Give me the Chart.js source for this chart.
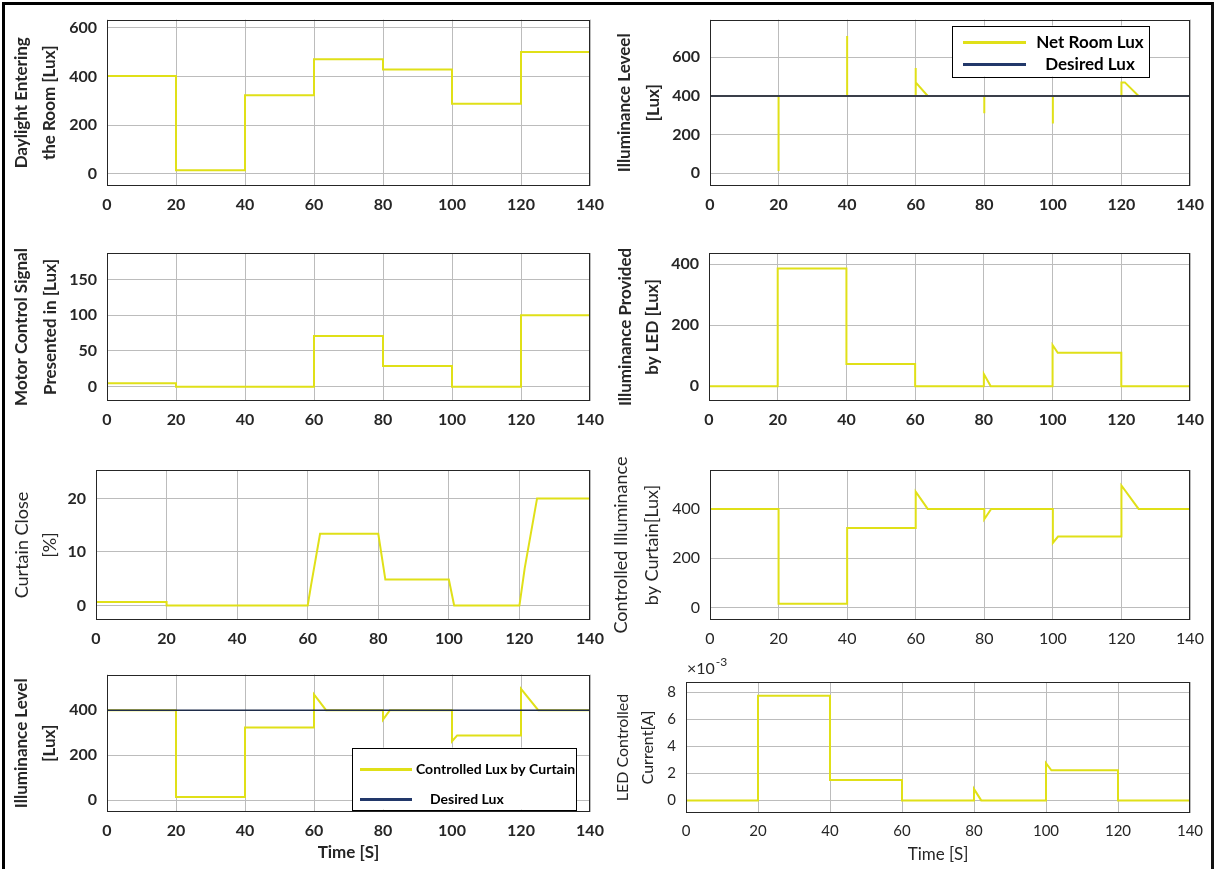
<!DOCTYPE html>
<html>
<head>
<meta charset="utf-8">
<script src="https://cdn.jsdelivr.net/npm/chart.js@4.4.1/dist/chart.umd.min.js"></script>
<style>
  html, body { margin: 0; padding: 0; background: #fff; }
  #fig { position: relative; width: 1217px; height: 869px; overflow: hidden; background: #fff; }
  #frame { position: absolute; left: 2px; top: 2px; width: 1206px; height: 880px;
           border-left: 3px solid #000; border-top: 3px solid #000; border-right: 3px solid #111; }
  canvas { position: absolute; }
</style>
</head>
<body>
<div id="fig"><div id="frame"></div></div>
<script>
// time axis [s]
const timeTicks = [0, 20, 40, 60, 80, 100, 120, 140];

// daylight entering the room [lux]
const tDaylight   = [0, 20, 20, 40, 40, 60, 60, 80, 80, 100, 100, 120, 120, 140, 140];
const daylightLux = [402, 402, 15, 15, 323, 323, 470, 470, 428, 428, 288, 288, 500, 500, 562];
const daylightRange = [-50, 633];
const daylightTicks = [0, 200, 400, 600];

// net room lux vs desired
const tNetLux   = [0, 20, 20, 20, 40, 40, 40, 60, 60, 60, 63.5, 80, 80, 80, 100, 100, 100, 120, 120, 121, 125, 140, 140];
const netLux    = [400, 400, 12, 400, 400, 710, 400, 400, 545, 470, 400, 400, 310, 400, 400, 258, 400, 400, 470, 470, 400, 400, 465];
const tDesired  = [0, 140];
const desiredLux = [400, 400];
const netRange = [-66, 795];
const netTicks = [0, 200, 400, 600];

// motor control signal [lux]
const tMotor   = [0, 20, 20, 60, 60, 80, 80, 100, 100, 120, 120, 140, 140];
const motorLux = [5, 5, 0, 0, 71, 71, 29, 29, 0, 0, 100, 100, 166];
const motorRange = [-20, 187];
const motorTicks = [0, 50, 100, 150];

// illuminance provided by LED [lux]
const tLed   = [0, 20, 20, 40, 40, 60, 60, 80, 80, 82, 100, 100, 101.5, 120, 120, 140];
const ledLux = [0, 0, 385, 385, 73, 73, 0, 0, 40, 0, 0, 135, 110, 110, 0, 0];
const ledRange = [-48, 436];
const ledTicks = [0, 200, 400];

// curtain close [%]
const tCurtain   = [0, 20, 20, 60, 61, 63.5, 80, 82, 100, 101.5, 120, 121.5, 125, 140, 140];
const curtainPct = [0.65, 0.65, 0, 0, 4, 13.4, 13.4, 4.85, 4.85, 0, 0, 7, 20, 20, 22.5];
const curtainRange = [-2.7, 25.3];
const curtainTicks = [0, 10, 20];

// illuminance controlled by curtain [lux]
const tCurtainLux = [0, 20, 20, 40, 40, 60, 60, 63.5, 80, 80, 82, 100, 100, 101.5, 120, 120, 125, 140, 140];
const curtainLux  = [400, 400, 15, 15, 323, 323, 470, 400, 400, 358, 400, 400, 262, 288, 288, 495, 400, 400, 465];
const curtainLuxRange = [-51, 558];
const curtainLuxRange2 = [-52, 558];
const curtainLuxTicks = [0, 200, 400];

// LED controlled current [A]
const tCurrent   = [0, 20, 20, 40, 40, 60, 60, 80, 80, 82, 100, 100, 101.5, 120, 120, 140];
const ledCurrent = [0, 0, 0.00772, 0.00772, 0.0015, 0.0015, 0, 0, 0.00085, 0, 0, 0.00275, 0.00222, 0.00222, 0, 0];
const currentRange = [-0.00093, 0.00874];
const currentTicks = [0, 0.002, 0.004, 0.006, 0.008];

const YELLOW = 'rgb(224,224,24)';
const NAVY = '#22386a';
const GRID = '#bcbcbc';
const TXT = '#262626';
const FONT = 'Lato';

const panelExtras = {
  id: 'panelExtras',
  afterDatasetsDraw(chart, args, opts) {
    const { ctx, chartArea: a } = chart;
    ctx.save();
    // axes box
    ctx.strokeStyle = TXT;
    ctx.lineWidth = 1;
    ctx.strokeRect(Math.round(a.left) + 0.5, Math.round(a.top) + 0.5,
                   Math.round(a.right - a.left) - 1, Math.round(a.bottom - a.top) - 1);

    const lg = opts.legend;
    if (lg) {
      const [bx, by, bw, bh] = lg.box;
      ctx.fillStyle = '#fff';
      ctx.fillRect(a.left + bx, a.top + by, bw, bh);
      ctx.strokeStyle = '#000';
      ctx.strokeRect(Math.round(a.left + bx) + 0.5, Math.round(a.top + by) + 0.5, bw, bh);
      ctx.font = lg.font;
      ctx.textBaseline = 'middle';
      chart.data.datasets.forEach((ds, i) => {
        const y = a.top + lg.rows[i];
        ctx.strokeStyle = ds.legendColor || ds.borderColor;
        ctx.lineWidth = 3;
        ctx.beginPath();
        ctx.moveTo(a.left + lg.sample[0], y);
        ctx.lineTo(a.left + lg.sample[1], y);
        ctx.stroke();
        ctx.fillStyle = '#000';
        ctx.textAlign = lg.align;
        const tx = Array.isArray(lg.tx) ? lg.tx[i] : lg.tx;
        ctx.fillText(ds.label, a.left + tx, y);
      });
    }

    if (opts.exp) {
      ctx.fillStyle = TXT;
      ctx.textBaseline = 'middle';
      ctx.textAlign = 'left';
      ctx.font = '16px ' + FONT;
      const base = '\u00d710';
      ctx.fillText(base, a.left + 1, a.top - 13);
      const w = ctx.measureText(base).width;
      ctx.font = '12px ' + FONT;
      ctx.fillText('-3', a.left + 2 + w, a.top - 20);
    }
    ctx.restore();
  }
};

const panels = [
  { canvas: [0, 0, 620, 222], plot: [107, 17, 590, 186],
    title: ['Daylight Entering', 'the Room [Lux]'], titleBold: true, titleSize: 17, lh: 27.5, pad: 8.25,
    tickBold: true, range: daylightRange, ticks: daylightTicks,
    series: [{ label: 'Daylight', t: tDaylight, v: daylightLux, color: YELLOW }] },
  { canvas: [600, 0, 617, 222], plot: [710, 16, 1190, 186],
    title: ['Illuminance Leveel', '[Lux]'], titleBold: true, titleSize: 17, lh: 29, pad: 10.5,
    tickBold: true, range: netRange, ticks: netTicks,
    series: [{ label: 'Net Room Lux', t: tNetLux, v: netLux, color: YELLOW, order: 1 },
             { label: 'Desired Lux', t: tDesired, v: desiredLux, color: '#3a3f4a', order: 0, width: 2, legendColor: NAVY }],
    legend: { box: [242, 6, 197, 51], sample: [253, 316], rows: [23, 45], tx: 380, align: 'center', font: 'bold 17px ' + FONT } },
  { canvas: [0, 225, 620, 217], plot: [107, 253, 590, 401],
    title: ['Motor Control Signal', 'Presented in [Lux]'], titleBold: true, titleSize: 17, lh: 29, pad: 7,
    tickBold: true, range: motorRange, ticks: motorTicks,
    series: [{ label: 'Motor', t: tMotor, v: motorLux, color: YELLOW }] },
  { canvas: [600, 225, 617, 217], plot: [709, 253, 1190, 401],
    title: ['Illuminance Provided', 'by LED [Lux]'], titleBold: true, titleSize: 17, lh: 27, pad: 12,
    tickBold: true, range: ledRange, ticks: ledTicks,
    series: [{ label: 'LED', t: tLed, v: ledLux, color: YELLOW }] },
  { canvas: [0, 442, 620, 215], plot: [96, 470, 590, 620],
    title: ['Curtain Close', '[%]'], titleBold: false, titleSize: 18, lh: 28, pad: 8.5,
    tickBold: true, range: curtainRange, ticks: curtainTicks,
    series: [{ label: 'Curtain', t: tCurtain, v: curtainPct, color: YELLOW }] },
  { canvas: [600, 442, 617, 215], plot: [710, 470, 1190, 620],
    title: ['Controlled Illuminance', 'by Curtain[Lux]'], titleBold: false, titleSize: 18, lh: 31, pad: 5.5,
    tickBold: false, range: curtainLuxRange, ticks: curtainLuxTicks,
    series: [{ label: 'Curtain Lux', t: tCurtainLux, v: curtainLux, color: YELLOW }] },
  { canvas: [0, 655, 620, 214], plot: [107, 667, 590, 812],
    title: ['Illuminance Level', '[Lux]'], titleBold: true, titleSize: 17, lh: 28.6, pad: 7,
    tickBold: true, range: curtainLuxRange2, ticks: curtainLuxTicks,
    xTitle: 'Time [S]', xTitleBold: true, xPad: 6,
    series: [{ label: 'Controlled Lux by Curtain', t: tCurtainLux, v: curtainLux, color: YELLOW, order: 1 },
             { label: 'Desired Lux', t: tDesired, v: desiredLux, color: '#1f2d4a', order: 0, width: 1.5, legendColor: NAVY }],
    legend: { box: [245, 73, 224, 62], sample: [253, 305], rows: [95, 125], tx: [309, 323], align: 'left', font: 'bold 14px ' + FONT } },
  { canvas: [600, 655, 617, 214], plot: [686, 682, 1190, 813],
    title: ['LED Controlled', 'Current[A]'], titleBold: false, titleSize: 16, lh: 25, pad: 10.5,
    tickBold: false, tickSize: 15, range: currentRange, ticks: currentTicks, milli: true,
    xTitle: 'Time [S]', xTitleBold: false, xPad: 4, exp: true,
    series: [{ label: 'Current', t: tCurrent, v: ledCurrent, color: YELLOW }] }
];

const fig = document.getElementById('fig');

panels.forEach(p => {
  const [cx, cy, cw, ch] = p.canvas;
  const [l, t, r, b] = p.plot;
  const cv = document.createElement('canvas');
  cv.width = cw; cv.height = ch;
  cv.style.left = cx + 'px'; cv.style.top = cy + 'px';
  cv.style.width = cw + 'px'; cv.style.height = ch + 'px';
  fig.appendChild(cv);

  const tickFont = { family: FONT, size: p.tickSize || 16, weight: p.tickBold ? 'bold' : 'normal' };
  const datasets = p.series.map(s => ({
    label: s.label,
    data: s.t.map((x, i) => ({ x, y: s.v[i] })),
    borderColor: s.color,
    legendColor: s.legendColor,
    borderWidth: s.width || 2,
    order: s.order || 0,
    pointRadius: 0,
    fill: false,
    tension: 0
  }));

  new Chart(cv, {
    type: 'line',
    data: { datasets },
    options: {
      responsive: false,
      animation: false,
      devicePixelRatio: 1,
      layout: { padding: { left: 0, top: t - cy, right: cx + cw - r, bottom: 0 } },
      plugins: {
        legend: { display: false },
        tooltip: { enabled: false },
        panelExtras: { legend: p.legend, exp: p.exp }
      },
      scales: {
        x: {
          type: 'linear', min: 0, max: 140,
          afterBuildTicks: s => { s.ticks = timeTicks.map(v => ({ value: v })); },
          afterFit: s => { s.height = cy + ch - b; },
          grid: { color: GRID, lineWidth: 1, drawTicks: false },
          border: { display: false },
          ticks: { font: tickFont, color: TXT, padding: 9, maxRotation: 0, autoSkip: false },
          title: {
            display: !!p.xTitle, text: p.xTitle || '', color: TXT,
            font: { family: FONT, size: 17, weight: p.xTitleBold ? 'bold' : 'normal', lineHeight: '20px' },
            padding: { top: 0, bottom: p.xPad || 0 }
          }
        },
        y: {
          type: 'linear', min: p.range[0], max: p.range[1],
          afterBuildTicks: s => { s.ticks = p.ticks.map(v => ({ value: v })); },
          afterFit: s => { s.width = l - cx; },
          grid: { color: GRID, lineWidth: 1, drawTicks: false },
          border: { display: false },
          ticks: {
            font: tickFont, color: TXT, padding: 10, autoSkip: false,
            callback: v => p.milli ? String(Math.round(v * 1000)) : String(v)
          },
          title: {
            display: true, text: p.title, color: TXT,
            font: { family: FONT, size: p.titleSize, weight: p.titleBold ? 'bold' : 'normal', lineHeight: p.lh + 'px' },
            padding: { top: p.pad, bottom: 0 }
          }
        }
      }
    },
    plugins: [panelExtras]
  });
});
</script>
</body>
</html>
